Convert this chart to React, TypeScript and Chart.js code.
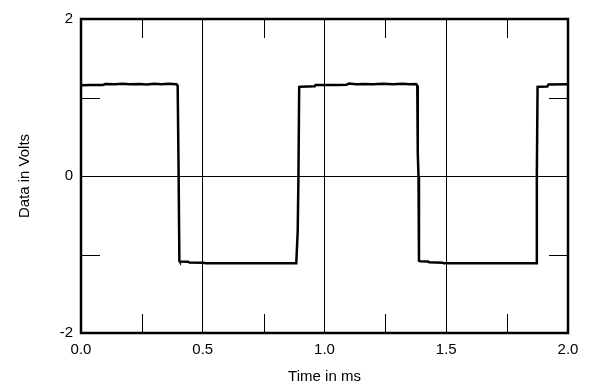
import React, { useEffect, useRef } from "react";
import { Chart, registerables } from "chart.js";

Chart.register(...registerables);

// Waveform samples: time (ms) and voltage (V)
const timeMs = [
  0.0, 0.04, 0.09, 0.1, 0.14, 0.17, 0.2, 0.24, 0.27, 0.3, 0.33, 0.36, 0.392,
  0.397, 0.401, 0.404, 0.406, 0.44, 0.445, 0.5, 0.515, 0.7, 0.884,
  0.89, 0.893, 0.896, 0.9, 0.96, 0.963, 1.05, 1.09, 1.1, 1.13, 1.16, 1.2, 1.24, 1.28, 1.32, 1.35, 1.376,
  1.381, 1.383, 1.386, 1.388, 1.392, 1.425, 1.43, 1.485, 1.49, 1.7, 1.869,
  1.872, 1.875, 1.88, 1.915, 1.92, 2.0,
];
const volts = [
  1.155, 1.158, 1.16, 1.172, 1.168, 1.175, 1.168, 1.172, 1.166, 1.174, 1.168, 1.176, 1.17,
  1.15, 0.0, -1.08, -1.09, -1.092, -1.102, -1.105, -1.112, -1.112, -1.112,
  -0.7, 0.0, 1.135, 1.138, 1.142, 1.158, 1.16, 1.162, 1.178, 1.17, 1.172, 1.168, 1.174, 1.168, 1.174, 1.168, 1.172,
  1.15, 0.3, 0.0, -1.08, -1.085, -1.088, -1.1, -1.104, -1.112, -1.112, -1.112,
  0.0, 1.135, 1.138, 1.14, 1.165, 1.168,
];

// Axis ticks
const xMajorTicks = [0, 0.5, 1.0, 1.5, 2.0];
const xMinorTicks = [0.25, 0.75, 1.25, 1.75];
const yMajorTicks = [-2, 0, 2];
const yMinorTicks = [-1, 1];

const FONT = "'Liberation Sans', Arial, Helvetica, sans-serif";

const framePlugin = {
  id: "frame",
  afterDatasetsDraw(chart: any) {
    const { ctx, chartArea } = chart;
    const { left, right, top, bottom } = chartArea;
    const xs = chart.scales.x;
    const ys = chart.scales.y;
    ctx.save();
    ctx.strokeStyle = "#000";
    ctx.lineWidth = 1;
    const len = 19;
    ctx.beginPath();
    xMinorTicks.forEach((v) => {
      const px = Math.round(xs.getPixelForValue(v)) + 0.5;
      ctx.moveTo(px, top);
      ctx.lineTo(px, top + len);
      ctx.moveTo(px, bottom);
      ctx.lineTo(px, bottom - len);
    });
    yMinorTicks.forEach((v) => {
      const py = Math.round(ys.getPixelForValue(v)) + 0.5;
      ctx.moveTo(left, py);
      ctx.lineTo(left + len, py);
      ctx.moveTo(right, py);
      ctx.lineTo(right - len, py);
    });
    ctx.stroke();
    ctx.lineWidth = 2.5;
    ctx.strokeRect(left, top, right - left, bottom - top);
    ctx.restore();
  },
};

export default function App() {
  const ref = useRef<HTMLCanvasElement | null>(null);

  useEffect(() => {
    document.body.style.margin = "0";
    const canvas = ref.current;
    if (!canvas) return;
    const data = timeMs.map((t, i) => ({ x: t, y: volts[i] }));
    const chart = new Chart(canvas, {
      type: "line",
      data: {
        datasets: [
          {
            data,
            borderColor: "#000",
            borderWidth: 2.5,
            pointRadius: 0,
            tension: 0,
            fill: false,
          },
        ],
      },
      options: {
        animation: false,
        responsive: false,
        devicePixelRatio: 1,
        layout: { padding: { top: 19, right: 32, left: 0, bottom: 0 } },
        plugins: { legend: { display: false }, tooltip: { enabled: false } },
        scales: {
          x: {
            type: "linear",
            min: 0,
            max: 2,
            afterBuildTicks: (scale: any) => {
              scale.ticks = xMajorTicks.map((v) => ({ value: v }));
            },
            afterFit: (scale: any) => {
              scale.height = 58;
            },
            ticks: {
              padding: 8,
              color: "#000",
              font: { family: FONT, size: 15 },
              callback: (v: any) => Number(v).toFixed(1),
              maxRotation: 0,
            },
            grid: {
              drawTicks: false,
              color: (c: any) =>
                c.tick && c.tick.value > 0 && c.tick.value < 2 ? "#000" : "rgba(0,0,0,0)",
              lineWidth: 1,
            },
            border: { display: false },
            title: {
              display: true,
              text: "Time in ms",
              color: "#000",
              font: { family: FONT, size: 15, lineHeight: 1 },
              padding: { top: 0, bottom: 7 },
            },
          },
          y: {
            type: "linear",
            min: -2,
            max: 2,
            afterBuildTicks: (scale: any) => {
              scale.ticks = yMajorTicks.map((v) => ({ value: v }));
            },
            afterFit: (scale: any) => {
              scale.width = 81;
            },
            ticks: {
              padding: 8,
              color: "#000",
              font: { family: FONT, size: 15 },
              callback: (v: any) => String(v),
            },
            grid: {
              drawTicks: false,
              color: (c: any) => (c.tick && c.tick.value === 0 ? "#000" : "rgba(0,0,0,0)"),
              lineWidth: 1,
            },
            border: { display: false },
            title: {
              display: true,
              text: "Data in Volts",
              color: "#000",
              font: { family: FONT, size: 15, lineHeight: 1 },
              padding: { top: 17, bottom: 0 },
            },
          },
        },
      },
      plugins: [framePlugin],
    });
    return () => chart.destroy();
  }, []);

  return (
    <div style={{ width: 600, height: 391, background: "#fff" }}>
      <canvas ref={ref} width={600} height={391} />
    </div>
  );
}
